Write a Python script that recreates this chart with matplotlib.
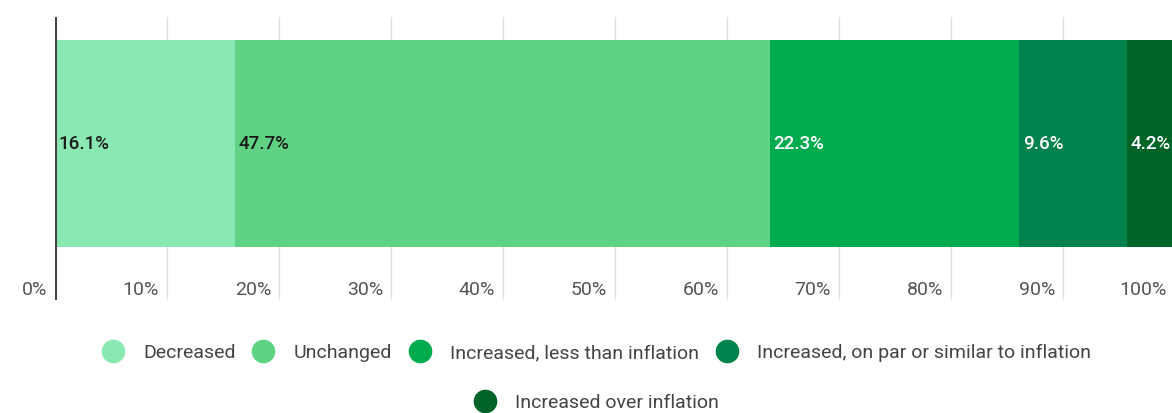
import matplotlib.pyplot as plt
from matplotlib.lines import Line2D
from matplotlib import transforms

plt.rcParams['font.family'] = ['Roboto', 'DejaVu Sans']

categories = ['Decreased', 'Unchanged', 'Increased, less than inflation',
              'Increased, on par or similar to inflation', 'Increased over inflation']
shares = [16.1, 47.7, 22.3, 9.6, 4.2]
colors = ['#8ae9b3', '#60d283', '#00ab50', '#00824c', '#006429']
label_colors = ['#1a1a1a', '#1a1a1a', 'white', 'white', 'white']
ticks = [0, 10, 20, 30, 40, 50, 60, 70, 80, 90, 100]
tick_labels = ['0%', '10%', '20%', '30%', '40%', '50%', '60%', '70%', '80%', '90%', '100%']

W, H = 1172, 413
fig = plt.figure(figsize=(W / 100, H / 100), dpi=100)
# axes runs a little past the right edge, so 100% sits just off-canvas
ax = fig.add_axes([55 / W, (H - 300) / H, 1120 / W, 283 / H])
ax.set_xlim(0, 100)
ax.set_ylim(0, 1)

for t in ticks[1:]:
    ax.axvline(t, color='#dddddd', lw=0.9, zorder=0)

left = 0
for val, c, lc in zip(shares, colors, label_colors):
    ax.barh(0.553, val, left=left, height=0.731, color=c, zorder=2)
    ax.text(left + 0.3, 0.553, f'{val}%', color=lc, fontsize=13.5,
            fontweight='medium', va='center', ha='left', zorder=3)
    left += val

ax.axvline(0, color='#444444', lw=2.2, zorder=4)

# tick labels sit to the left of each gridline
off = transforms.offset_copy(ax.get_xaxis_transform(), fig=fig, x=-8, y=0, units='dots')
for t, lab in zip(ticks, tick_labels):
    ax.text(t, 0.035, lab, transform=off, ha='right', va='center',
            fontsize=14, color='#555555')

ax.set_xticks([])
ax.set_yticks([])
for s in ax.spines.values():
    s.set_visible(False)

handles = [Line2D([], [], marker='o', ls='', markersize=16, color=c) for c in colors]
leg_kw = dict(frameon=False, fontsize=14, handlelength=1.2, handletextpad=0.94,
              columnspacing=0.84, labelcolor='#444444', loc='center')
fig.legend(handles[:4], categories[:4], ncol=4,
           bbox_to_anchor=(596 / W, 1 - 353 / H), **leg_kw)
fig.legend(handles[4:], categories[4:], ncol=1,
           bbox_to_anchor=(596 / W, 1 - 403 / H), **leg_kw)

fig.savefig('out.png', dpi=100)
